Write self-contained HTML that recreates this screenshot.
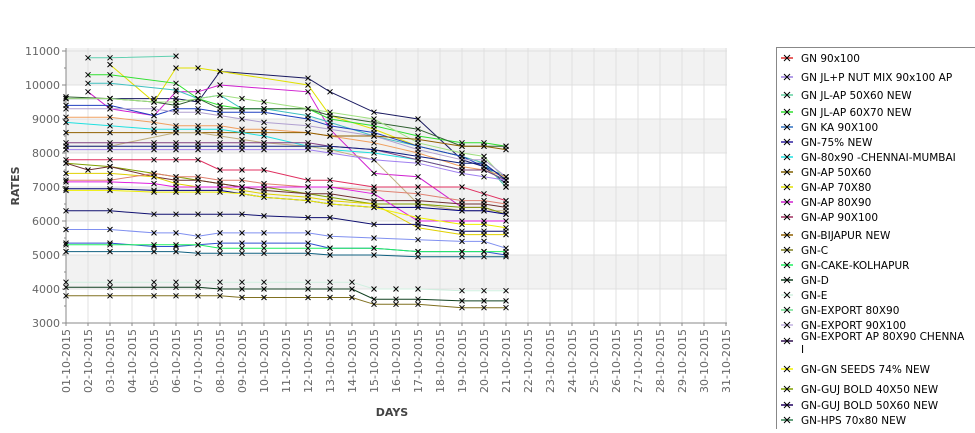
<!DOCTYPE html>
<html><head><meta charset="utf-8"><style>
body{margin:0;background:#fff;width:975px;height:429px;overflow:hidden;font-family:"DejaVu Sans","Liberation Sans",sans-serif}
</style></head><body>
<svg id="chart" width="975" height="429" xmlns="http://www.w3.org/2000/svg" font-family="DejaVu Sans, Liberation Sans, sans-serif"></svg>
<script>
const days=[1,2,3,5,6,7,8,9,10,12,13,14,15,16,17,19,20,21];
const yTicks=[3000,4000,5000,6000,7000,8000,9000,10000,11000];
const seriesNames=["GN 90x100","GN JL+P NUT MIX 90x100 AP","GN JL-AP 50X60 NEW","GN JL-AP 60X70 NEW","GN KA 90X100","GN-75% NEW","GN-80x90 -CHENNAI-MUMBAI","GN-AP 50X60","GN-AP 70X80","GN-AP 80X90","GN-AP 90X100","GN-BIJAPUR NEW","GN-C","GN-CAKE-KOLHAPUR","GN-D","GN-E","GN-EXPORT 80X90","GN-EXPORT 90X100","GN-EXPORT AP 80X90 CHENNA I","GN-GN SEEDS 74% NEW","GN-GUJ BOLD 40X50 NEW","GN-GUJ BOLD 50X60 NEW","GN-HPS  70x80 NEW"];
const legendColors=["#e03030","#9a7fe0","#60d0a0","#30e030","#3070c0","#3020a0","#20e0e0","#806000","#e0e000","#d020d0","#a03060","#906000","#808020","#20f060","#104020","#d0f0e0","#70e090","#c0b0e0","#301050","#f0f000","#80a000","#200060","#308050"];
const colors=["#1a1a60","#e0e000","#d020d0","#60d0b0","#30e030","#40c0c0","#306030","#2040c0","#a0e080","#b0a0d0","#f0a060","#906000","#20e0e0","#c0b080","#804080","#102080","#a080f0","#e03060","#80a000","#703030","#e0d000","#e08070","#e020e0","#000080","#f0f000","#101070","#8090f0","#3050d0","#20f060","#106080","#d0f0e0","#104020","#807020"];
const s1=[9600,null,9600,9600,9600,9500,10400,null,null,10200,9800,null,9200,null,9000,7800,7600,7100];
const s2=[null,null,10600,9500,10500,10500,10400,null,null,10000,9100,null,8700,null,8200,7900,7700,7000];
const s3=[null,9800,9300,9100,9800,9800,10000,null,null,9800,8700,null,7400,null,7300,6400,6400,6200];
const s4=[null,10800,10800,null,10850,null,null,null,null,null,null,null,null,null,null,null,null,null];
const s5=[null,10300,10300,null,10050,9600,9400,9300,9300,9300,9000,null,8800,null,8500,8300,8300,8200];
const s6=[null,10050,10050,null,9850,9600,9700,9300,9300,9100,8900,null,8500,null,8200,7900,7700,7000];
const s7=[9650,null,9600,9500,9400,9600,9300,9300,9300,9300,9100,null,8900,null,8700,8200,8200,8200];
const s8=[9400,null,9400,9100,9300,9300,9200,9200,9200,9000,8800,null,8600,null,8200,7900,7600,7300];
const s9=[9600,null,9600,9500,9500,9600,9700,9600,9500,9300,9200,null,9000,null,8300,8000,7900,7200];
const s10=[9300,null,9300,9300,9200,9200,9100,9000,8900,8800,8700,null,8500,null,8100,7800,7800,7300];
const s11=[9050,null,9050,8900,8800,8800,8800,8700,8700,8600,8500,null,8300,null,8000,7600,7500,7300];
const s12=[8600,null,8600,8600,8600,8600,8600,8600,8600,8600,8500,null,8500,null,8400,8200,8200,8100];
const s13=[8900,null,8800,8700,8700,8700,8700,8600,8500,8200,8100,null,8000,null,7800,7500,7500,7200];
const s14=[8200,null,8200,null,8600,8600,8500,8400,8300,8200,8100,null,7800,null,6500,6300,6300,6300];
const s15=[8300,null,8300,8300,8300,8300,8300,8300,8300,8300,8200,null,8100,null,7800,7500,7500,7200];
const s16=[8200,null,8200,8200,8200,8200,8200,8200,8200,8200,8200,null,8100,null,7900,7700,7700,7200];
const s17=[8100,null,8100,8100,8100,8100,8100,8100,8100,8100,8000,null,7800,null,7700,7400,7300,7200];
const s18=[7800,null,7800,7800,7800,7800,7500,7500,7500,7200,7200,null,7000,null,7000,7000,6800,6600];
const s19=[7700,null,7600,7400,7300,7200,7100,7000,7000,6800,6700,null,6500,null,6500,6400,6400,6200];
const s20=[7700,7500,7600,7300,7200,7200,7100,7000,6900,6800,6800,null,6600,null,6600,6500,6500,6400];
const s21=[7400,null,7400,7300,7100,7000,7000,6900,6800,6700,6600,null,6500,null,5800,5600,5600,5600];
const s22=[7200,null,7200,7400,7300,7300,7200,7200,7100,7000,7000,null,6900,null,6800,6600,6600,6500];
const s23=[7150,null,7150,7100,7000,7000,7000,7000,7000,7000,7000,null,6800,null,6000,6000,6000,6000];
const s24=[6950,null,6950,6900,6900,6900,6900,6800,6700,6600,6500,null,6400,null,6400,6300,6300,6200];
const s25=[6900,null,6900,6850,6850,6850,6850,6800,6700,6600,6500,null,6400,null,6100,5900,5900,5800];
const s26=[6300,null,6300,6200,6200,6200,6200,6200,6150,6100,6100,null,5900,null,5900,5700,5700,5700];
const s27=[5750,null,5750,5650,5650,5550,5650,5650,5650,5650,5550,null,5500,null,5450,5400,5400,5200];
const s28=[5350,null,5350,5250,5250,5300,5350,5350,5350,5350,5200,null,5200,null,5100,5100,5100,5000];
const s29=[5300,null,5300,5300,5300,5300,5200,5200,5200,5200,5200,null,5200,null,5100,5100,5100,5100];
const s30=[5100,null,5100,5100,5100,5050,5050,5050,5050,5050,5000,null,5000,null,4950,4950,4950,4950];
const s31=[4200,null,4200,4200,4200,4200,4200,4200,4200,4200,4200,4200,4000,4000,4000,3950,3950,3950];
const s32=[4050,null,4050,4050,4050,4050,4000,4000,4000,4000,4000,4000,3700,3700,3700,3650,3650,3650];
const s33=[3800,null,3800,3800,3800,3800,3800,3750,3750,3750,3750,3750,3550,3550,3550,3450,3450,3450];
const allSeries=[s1,s2,s3,s4,s5,s6,s7,s8,s9,s10,s11,s12,s13,s14,s15,s16,s17,s18,s19,s20,s21,s22,s23,s24,s25,s26,s27,s28,s29,s30,s31,s32,s33];

const NS="http://www.w3.org/2000/svg";
const svg=document.getElementById('chart');
const X0=66,DX=22,Y0=323,KY=0.034,TOP=48,RIGHT=727;
function xs(d){return X0+(d-1)*DX;}
function ys(v){return Y0-(v-3000)*KY;}
function mk(t,a){const e=document.createElementNS(NS,t);for(const k in a)e.setAttribute(k,a[k]);svg.appendChild(e);return e;}

for(let v=4000;v<11000;v+=2000){
 const b=mk('rect',{x:X0,y:ys(v+1000),width:RIGHT-X0,height:ys(v)-ys(v+1000),fill:'#f2f2f2'});
 
 
}
const b0=mk('rect',{x:X0,y:TOP,width:RIGHT-X0,height:ys(11000)-TOP,fill:'#f2f2f2'});


for(let d=1;d<=31;d++){
 const g=mk('line',{x1:xs(d),x2:xs(d),y1:TOP,y2:Y0,stroke:'#e0e0e0','stroke-width':1});
 
 
 const t=mk('text',{x:0,y:0,'font-size':11,fill:'#666',transform:`translate(${xs(d)+4},${Y0+6}) rotate(-90)`,'text-anchor':'end'});
 t.textContent=String(d).padStart(2,'0')+'-10-2015';
 
 
 mk('line',{x1:xs(d),x2:xs(d),y1:Y0,y2:Y0+3,stroke:'#888'});
}
yTicks.forEach(v=>{
 const g=mk('line',{x1:X0,x2:RIGHT,y1:ys(v),y2:ys(v),stroke:'#e0e0e0'});
 
 
 mk('line',{x1:X0-4,x2:X0,y1:ys(v),y2:ys(v),stroke:'#888'});
 if(v<11000) mk('line',{x1:X0-2,x2:X0,y1:ys(v+500),y2:ys(v+500),stroke:'#888'});
 const t=mk('text',{x:X0-6,y:ys(v)+4,'font-size':11,fill:'#666','text-anchor':'end'});
 t.textContent=v;
 
 
});
const ax=mk('line',{x1:X0,x2:X0,y1:TOP,y2:Y0,stroke:'#888'});


const axx=mk('line',{x1:X0,x2:RIGHT,y1:Y0,y2:Y0,stroke:'#888'});



allSeries.forEach((s,i)=>{
 const pts=[];
 s.forEach((v,j)=>{if(v!=null)pts.push([xs(days[j]),ys(v)]);});
 const p=mk('polyline',{points:pts.map(p=>p.join(',')).join(' '),fill:'none',stroke:colors[i%colors.length],'stroke-width':1});
 
 
 pts.forEach(([x,y])=>{
  const m=mk('path',{d:`M${x-2.5},${y-2.5}L${x+2.5},${y+2.5}M${x-2.5},${y+2.5}L${x+2.5},${y-2.5}`,stroke:'#000','stroke-width':1});
  
  
 });
});

const yt=mk('text',{x:0,y:0,'font-size':11,'font-weight':'bold',fill:'#444',transform:'translate(19,186) rotate(-90)','text-anchor':'middle'});
yt.textContent='RATES';


const xt=mk('text',{x:392,y:416,'font-size':11,'font-weight':'bold',fill:'#444','text-anchor':'middle'});
xt.textContent='DAYS';



const lb=mk('rect',{x:776.5,y:47.5,width:210,height:400,fill:'#fff',stroke:'#888'});


const ly=[58,77,95,112,127,142,157,172,187,202,217,235,250,265,280,295,310,325,341,369,389,405,420];
seriesNames.forEach((n,i)=>{
 const y=ly[i];
 mk('line',{x1:781,x2:793,y1:y,y2:y,stroke:legendColors[i],'stroke-width':1.5});
 const m=mk('path',{d:`M784,${y-3}L790,${y+3}M784,${y+3}L790,${y-3}`,stroke:'#000','stroke-width':1});
 
 
 const t=mk('text',{x:801,y:y+4,'font-size':10.5,fill:'#000'});
 
 
 if(i===18){t.setAttribute('y',y-1);t.textContent='GN-EXPORT AP 80X90 CHENNA';
  const t2=mk('text',{x:801,y:y+12,'font-size':10.5,fill:'#000'});t2.textContent='I';
  
  }
 else t.textContent=n;
});
</script>
</body></html>
